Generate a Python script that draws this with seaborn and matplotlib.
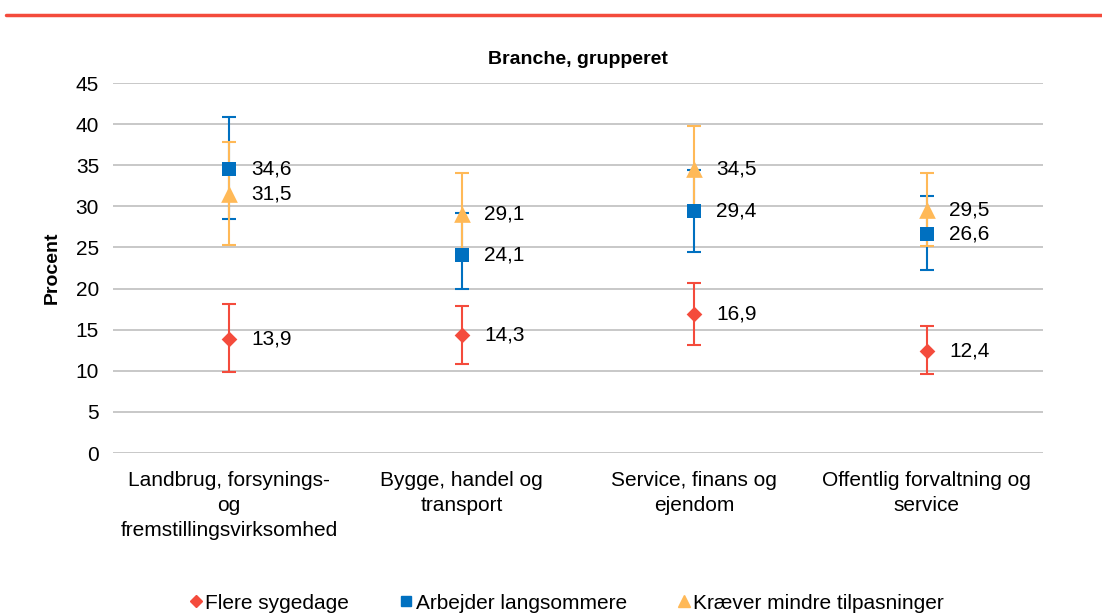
import numpy as np
import pandas as pd
import seaborn as sns
import matplotlib.pyplot as plt
from matplotlib.lines import Line2D

# DATA
categories = ["Landbrug, forsynings-\nog\nfremstillingsvirksomhed",
              "Bygge, handel og\ntransport",
              "Service, finans og\nejendom",
              "Offentlig forvaltning og\nservice"]
series_names = ["Flere sygedage", "Arbejder langsommere", "Kræver mindre tilpasninger"]

sygedage = [13.9, 14.3, 16.9, 12.4]
sygedage_lo = [9.9, 10.8, 13.1, 9.6]
sygedage_hi = [18.1, 17.9, 20.7, 15.5]

langsommere = [34.6, 24.1, 29.4, 26.6]
langsommere_lo = [28.5, 19.9, 24.4, 22.3]
langsommere_hi = [40.9, 29.2, 34.4, 31.3]

tilpasninger = [31.5, 29.1, 34.5, 29.5]
tilpasninger_lo = [25.3, 24.2, 29.5, 25.2]
tilpasninger_hi = [37.8, 34.0, 39.8, 34.1]

colors = ["#F44B3C", "#0070C0", "#FFB957"]
markers = ["D", "s", "^"]
msizes = [8, 10, 12]

sns.set_style("white")
plt.rcParams['font.family'] = ['Liberation Sans', 'DejaVu Sans']
plt.rcParams['text.color'] = 'black'
plt.rcParams['axes.labelcolor'] = 'black'
plt.rcParams['xtick.color'] = 'black'
plt.rcParams['ytick.color'] = 'black'

rows = []
for name, vals, lo, hi in zip(series_names,
                              [sygedage, langsommere, tilpasninger],
                              [sygedage_lo, langsommere_lo, tilpasninger_lo],
                              [sygedage_hi, langsommere_hi, tilpasninger_hi]):
    for i, c in enumerate(categories):
        rows.append({"serie": name, "x": i, "cat": c, "val": vals[i], "lo": lo[i], "hi": hi[i]})
df = pd.DataFrame(rows)

fig = plt.figure(figsize=(11.02, 6.13), dpi=100)
ax = fig.add_axes([0.1025, 0.261, 0.844, 0.6035])

for k, name in enumerate(series_names):
    d = df[df["serie"] == name]
    ax.errorbar(d["x"], d["val"], yerr=[d["val"] - d["lo"], d["hi"] - d["val"]],
                fmt="none", ecolor=colors[k], elinewidth=1.5, capsize=4.8, capthick=1.5,
                zorder=2 + k)
    sns.scatterplot(data=d, x="x", y="val", marker=markers[k], color=colors[k],
                    s=msizes[k] ** 2, edgecolor=colors[k], linewidth=0, ax=ax,
                    zorder=5 + k, legend=False)
    for _, r in d.iterrows():
        ax.annotate(f"{r['val']:.1f}".replace(".", ","), (r["x"], r["val"]),
                    xytext=(16, 0), textcoords="offset points", va="center",
                    ha="left", fontsize=15, color="black", zorder=10)

ax.set_xlim(-0.5, 3.5)
ax.set_ylim(0, 45)
ax.set_yticks(range(0, 46, 5))
ax.set_xticks(range(len(categories)))
ax.set_xticklabels(categories, fontsize=15, linespacing=1.4)
ax.tick_params(axis="y", labelsize=15, length=0, pad=10)
ax.tick_params(axis="x", length=0, pad=13)
ax.yaxis.grid(True, color="#BFBFBF", linewidth=1.2)
ax.set_axisbelow(True)
for s in ax.spines.values():
    s.set_visible(False)
ax.set_xlabel("")
ax.set_ylabel("Procent", fontsize=14, fontweight="bold", labelpad=11)
ax.set_title("Branche, grupperet", fontsize=14, fontweight="bold", pad=14)

handles = [Line2D([], [], marker=markers[k], color=colors[k], linestyle="none",
                  markersize=msizes[k] * 0.75) for k in range(3)]
fig.legend(handles, series_names, loc="lower center", bbox_to_anchor=(0.513, -0.03),
           ncol=3, frameon=False, fontsize=15, handletextpad=0.0, columnspacing=2.3,
           handlelength=0.9)

fig.add_artist(Line2D([0.005, 1.0], [1 - 15 / 613, 1 - 15 / 613],
                      transform=fig.transFigure, color="#F44B3C", linewidth=2.5))

fig.savefig("out.png", dpi=100)
